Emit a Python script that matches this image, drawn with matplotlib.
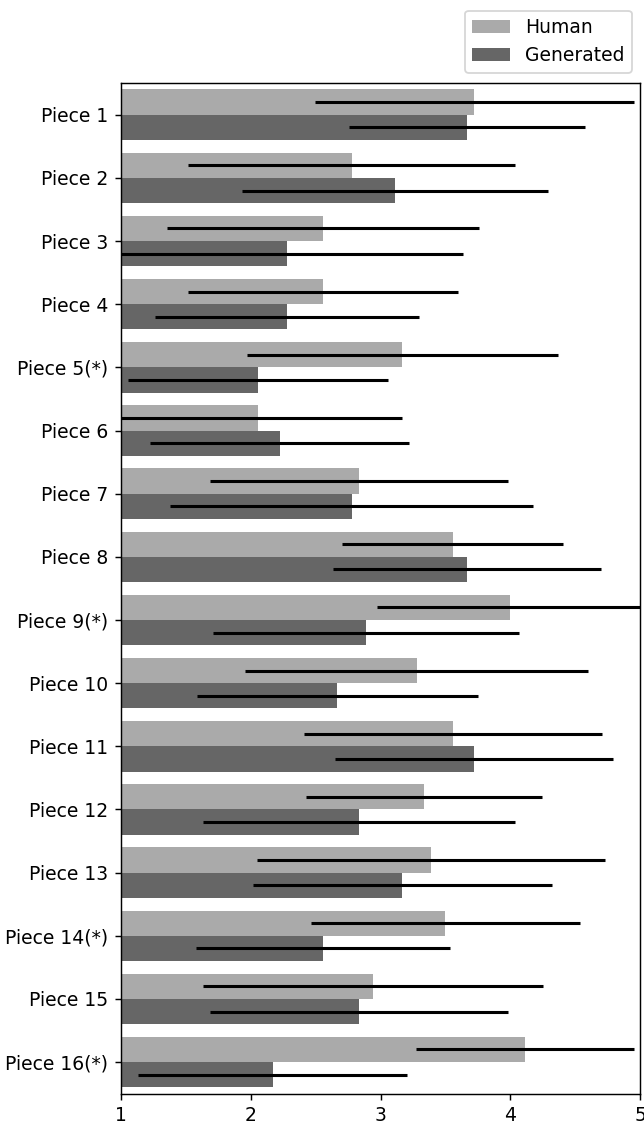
# -*- coding: utf-8 -*-
"""
Horizontal bar chart: mean rating per piece, human vs generated, with std as error bars
"""

import matplotlib
matplotlib.use('Agg')
import matplotlib.pyplot as plt
import numpy as np

# data
pieces = ['Piece 1', 'Piece 2', 'Piece 3', 'Piece 4', 'Piece 5(*)', 'Piece 6',
          'Piece 7', 'Piece 8', 'Piece 9(*)', 'Piece 10', 'Piece 11', 'Piece 12',
          'Piece 13', 'Piece 14(*)', 'Piece 15', 'Piece 16(*)']

human_mean = [3.722, 2.778, 2.556, 2.556, 3.167, 2.056, 2.833, 3.556,
              4.000, 3.278, 3.556, 3.333, 3.389, 3.500, 2.944, 4.111]
human_std = [1.23, 1.26, 1.20, 1.04, 1.20, 1.11, 1.15, 0.85,
             1.03, 1.32, 1.15, 0.91, 1.34, 1.04, 1.31, 0.84]

gen_mean = [3.667, 3.111, 2.278, 2.278, 2.056, 2.222, 2.778, 3.667,
            2.889, 2.667, 3.722, 2.833, 3.167, 2.556, 2.833, 2.167]
gen_std = [0.91, 1.18, 1.36, 1.02, 1.00, 1.00, 1.40, 1.03,
           1.18, 1.08, 1.07, 1.20, 1.15, 0.98, 1.15, 1.04]

plt.rcParams['font.size'] = 10.4

# figure setup
dpi = 130
fig = plt.figure(figsize=(644 / dpi, 1124 / dpi), dpi=dpi)
ax = fig.add_axes([0.188, 0.027, 0.806, 0.899])

y = np.arange(len(pieces))
h = 0.4
err_kw = dict(ecolor='black', elinewidth=1.7, capsize=0)

ax.barh(y - h / 2, human_mean, height=h, color='#aaaaaa', label='Human',
        xerr=human_std, error_kw=err_kw)
ax.barh(y + h / 2, gen_mean, height=h, color='#666666', label='Generated',
        xerr=gen_std, error_kw=err_kw)

# axes limits and labels
ax.set_xlim(1, 5)
ax.set_ylim(len(pieces) - 0.5, -0.5)
ax.set_yticks(y)
ax.set_yticklabels(pieces)
ax.set_xticks([1, 2, 3, 4, 5])

fig.legend(loc='upper right', bbox_to_anchor=(0.996, 0.999))

plt.savefig('out.png', dpi=dpi)
